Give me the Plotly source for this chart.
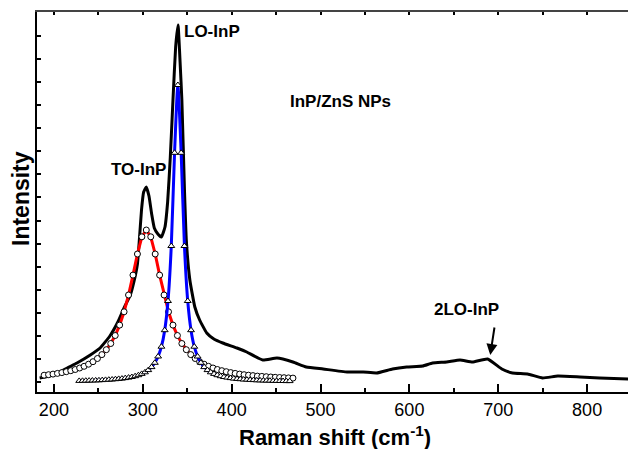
import plotly.graph_objects as go

# Measured spectrum (black)
raman_x = [184, 195, 205, 215, 226, 241, 252, 263, 272, 280, 286, 290, 294, 296, 298.6, 301, 304, 307,
           310, 313, 317, 321, 325, 328, 331, 334, 337, 339.7, 342, 344, 347, 349, 353, 358.6, 364, 372,
           380, 390, 406, 417, 435, 451, 469, 484, 503, 530, 548, 563, 581, 597, 615, 626, 642, 657,
           671, 688, 704, 716, 733, 750, 767, 792, 814, 847]
raman_y = [14, 16, 19, 24, 29, 37, 44, 56, 70, 86, 97, 110, 128, 150, 182, 200, 205, 196,
           178, 164, 158, 155, 165, 190, 235, 292, 345, 367, 330, 292, 200, 152, 112, 85, 72, 59,
           53, 49, 44, 40, 32, 34, 30, 25, 23, 20, 20, 19, 23, 25, 26, 29, 30, 32,
           30, 33, 23, 19, 18, 14, 16, 15, 14, 13]

# TO-InP fit (red line, open circles)
to_x = [189, 194, 199, 204, 209, 214, 219, 224, 229, 234, 239, 244, 249, 254, 259, 264, 269, 274, 279,
        284, 289, 294, 299, 304, 309, 314, 319, 324, 329, 334, 339, 344, 349, 354, 359, 364, 369, 374,
        379, 384, 389, 394, 399, 404, 409, 414, 419, 424, 429, 434, 439, 444, 449, 454, 459, 464, 469]
to_y = [16.8, 17.3, 17.9, 18.6, 19.4, 20.3, 21.3, 22.5, 24.0, 25.7, 27.8, 30.3, 33.5, 37.4, 42.3, 48.5,
        56.5, 66.9, 80.2, 97.0, 116.9, 138.0, 155.2, 162.0, 155.2, 138.0, 116.9, 97.0, 80.2, 66.9, 56.5,
        48.5, 42.3, 37.4, 33.5, 30.3, 27.8, 25.7, 24.0, 22.5, 21.3, 20.3, 19.4, 18.6, 17.9, 17.3, 16.8,
        16.4, 15.9, 15.6, 15.3, 15.0, 14.7, 14.5, 14.3, 14.1, 13.9]

# LO-InP fit (blue line, open triangles)
lo_x = [228.5, 232.2, 235.9, 239.6, 243.3, 247.0, 250.7, 254.4, 258.1, 261.8, 265.5, 269.2, 272.9,
        276.6, 280.3, 284.0, 287.7, 291.4, 295.1, 298.8, 302.5, 306.2, 309.9, 313.6, 317.3, 321.0,
        324.7, 328.4, 332.1, 335.8, 339.5, 343.2, 346.9, 350.6, 354.3, 358.0, 361.7, 365.4, 369.1,
        372.8, 376.5, 380.2, 383.9, 387.6, 391.3, 395.0, 398.7, 402.4, 406.1, 409.8, 413.5, 417.2,
        420.9, 424.6, 428.3, 432.0, 435.7, 439.4, 443.1, 446.8, 450.5, 454.2, 457.9, 461.6, 465.3]
lo_y = [11.1, 11.2, 11.3, 11.4, 11.5, 11.6, 11.7, 11.9, 12.1, 12.3, 12.5, 12.8, 13.1, 13.4, 13.9,
        14.4, 15.0, 15.8, 16.8, 18.1, 19.7, 21.9, 24.9, 29.2, 35.5, 45.3, 61.8, 91.0, 146.0, 239.2,
        307.0, 239.2, 146.0, 91.0, 61.8, 45.3, 35.5, 29.2, 24.9, 21.9, 19.7, 18.1, 16.8, 15.8, 15.0,
        14.4, 13.9, 13.4, 13.1, 12.8, 12.5, 12.3, 12.1, 11.9, 11.7, 11.6, 11.5, 11.4, 11.3, 11.2,
        11.1, 11.0, 11.0, 10.9, 10.9]

x_range = [181, 846]
y_range = [0, 380]
x_ticks = [200, 300, 400, 500, 600, 700, 800]

FONT = "Liberation Sans, Arial, sans-serif"

fig = go.Figure()
fig.add_trace(go.Scatter(x=raman_x, y=raman_y, mode="lines",
                         line=dict(color="black", width=3, shape="spline", smoothing=0.4),
                         showlegend=False))
fig.add_trace(go.Scatter(x=to_x, y=to_y, mode="lines+markers",
                         line=dict(color="#ff0000", width=3),
                         marker=dict(symbol="circle", size=6, color="white",
                                     line=dict(color="black", width=1)),
                         showlegend=False))
fig.add_trace(go.Scatter(x=lo_x, y=lo_y, mode="lines+markers",
                         line=dict(color="#0000ff", width=3, shape="spline", smoothing=0.6),
                         marker=dict(symbol="triangle-up", size=6, color="white",
                                     line=dict(color="black", width=1)),
                         showlegend=False))
# invisible trace to activate top axis
fig.add_trace(go.Scatter(x=x_range, y=[None, None], xaxis="x2", showlegend=False, hoverinfo="skip"))

fig.update_layout(
    width=628, height=449,
    margin=dict(l=37, r=0, t=12, b=57, autoexpand=False),
    paper_bgcolor="white", plot_bgcolor="white",
    font=dict(family=FONT, color="black"),
    xaxis=dict(range=x_range, tickvals=x_ticks, ticks="inside", ticklen=8, tickwidth=2,
               tickcolor="black", showline=True, linecolor="black", linewidth=2,
               showgrid=False, zeroline=False, tickfont=dict(size=18), automargin=False,
               minor=dict(dtick=50, tick0=0, ticks="inside", ticklen=4, tickwidth=1.5,
                          tickcolor="black", showgrid=False)),
    xaxis2=dict(range=x_range, overlaying="x", side="top", dtick=50, tick0=0,
                ticks="inside", ticklen=3, tickwidth=1.5, tickcolor="black",
                showline=True, linecolor="#444", linewidth=2, showticklabels=False,
                showgrid=False, zeroline=False, automargin=False),
    yaxis=dict(range=y_range, tick0=10, dtick=23.07, ticks="inside", ticklen=4, tickwidth=1.5,
               tickcolor="black", showticklabels=False, showline=True, linecolor="black",
               linewidth=2, showgrid=False, zeroline=False, automargin=False),
)

# axis titles as annotations (paper coords relative to plot area)
fig.add_annotation(x=(334.5 - 37) / 591, y=(392 - 436) / 380, xref="paper", yref="paper",
                   text="<b>Raman shift (cm<sup>-1</sup>)</b>", showarrow=False,
                   xanchor="center", yanchor="middle", font=dict(family=FONT, size=22))
fig.add_annotation(x=(21 - 37) / 591, y=(392 - 199) / 380, xref="paper", yref="paper",
                   text="<b>Intensity</b>", showarrow=False, textangle=-90,
                   xanchor="center", yanchor="middle", font=dict(family=FONT, size=23))

ann_font = dict(family=FONT, size=17, color="black")
fig.add_annotation(x=344, y=361, xref="x", yref="y", text="<b>LO-InP</b>", showarrow=False,
                   xanchor="left", yanchor="middle", font=ann_font)
fig.add_annotation(x=328, y=222.5, xref="x", yref="y", text="<b>TO-InP</b>", showarrow=False,
                   xanchor="right", yanchor="middle", font=ann_font)
fig.add_annotation(x=463, y=291, xref="x", yref="y", text="<b>InP/ZnS NPs</b>", showarrow=False,
                   xanchor="left", yanchor="middle", font=ann_font)
fig.add_annotation(x=626, y=83, xref="x", yref="y", text="<b>2LO-InP</b>", showarrow=False,
                   xanchor="left", yanchor="middle", font=ann_font)
fig.add_annotation(x=691, y=37, ax=696, ay=66, xref="x", yref="y", axref="x", ayref="y",
                   text="", showarrow=True, arrowhead=2, arrowsize=1.1, arrowwidth=2,
                   arrowcolor="black")

fig.write_html("out.html", config={"displayModeBar": False},
               post_script="document.body.style.margin='0';document.body.style.overflow='hidden';")
